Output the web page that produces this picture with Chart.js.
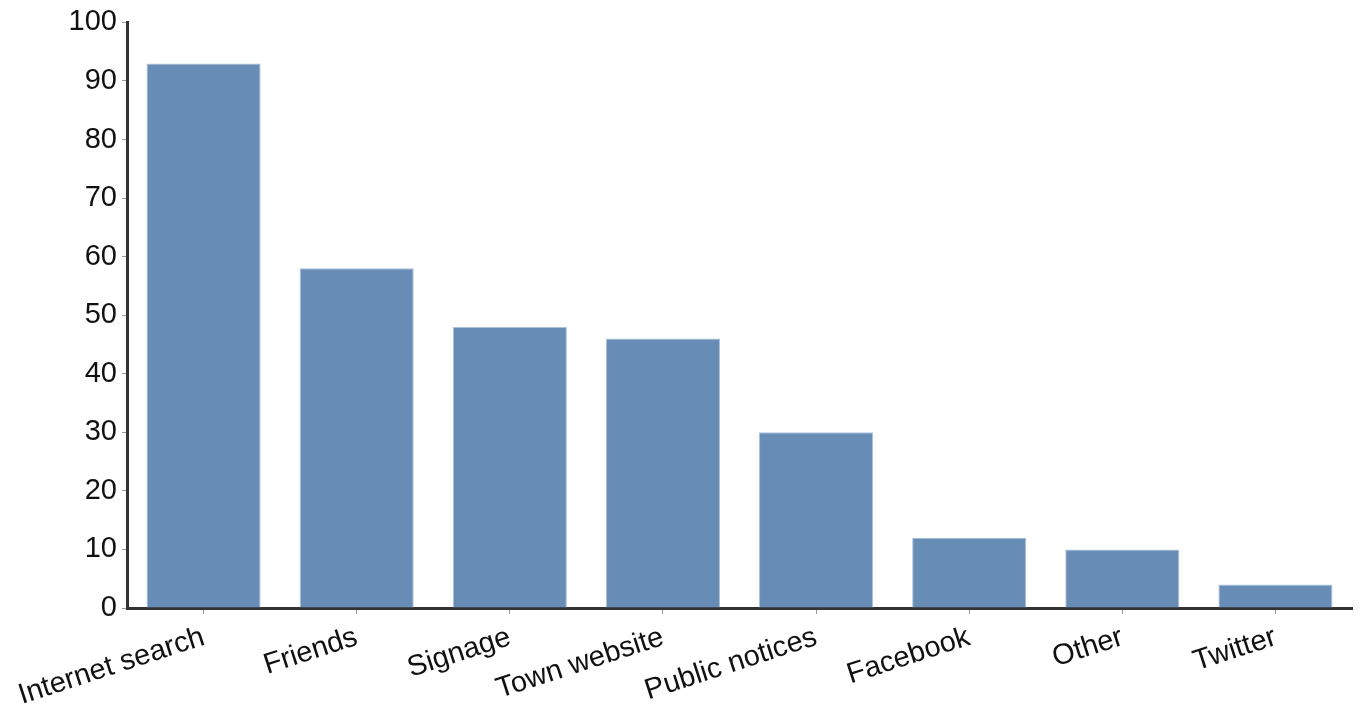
<!DOCTYPE html>
<html>
  <head>
    <script src="https://cdn.jsdelivr.net/npm/chart.js@4/dist/chart.umd.min.js"></script>
    <style>
      body { margin: 0; background: #fff; }
    </style>
  </head>
  <body>
    <canvas id="graph" width="1362" height="717"></canvas>
    <script>
      const categories = ['Internet search', 'Friends', 'Signage', 'Town website', 'Public notices', 'Facebook', 'Other', 'Twitter'];
      const counts = [93, 58, 48, 46, 30, 12, 10, 4];
      const yTicks = [0, 10, 20, 30, 40, 50, 60, 70, 80, 90, 100];

      const chart = new Chart(document.getElementById('graph').getContext('2d'), {
        type: 'bar',
        data: {
          labels: categories,
          datasets: [
            {
              data: counts,
              backgroundColor: '#678cb5',
              borderColor: '#a9c1dc',
              borderWidth: 1,
              categoryPercentage: 1,
              barPercentage: 0.745,
            },
          ],
        },
        options: {
          responsive: false,
          animation: false,
          layout: {
            padding: { left: 0, top: 22, right: 10, bottom: 0 },
          },
          plugins: {
            legend: { display: false },
            tooltip: { enabled: false },
          },
          scales: {
            x: {
              grid: { offset: false, drawOnChartArea: false, drawTicks: true, tickLength: 6, color: '#999' },
              border: { color: '#333', width: 3 },
              ticks: {
                color: '#111',
                font: { family: 'Liberation Sans', size: 29 },
                minRotation: 18,
                maxRotation: 18,
                padding: 6,
              },
              afterFit: (s) => { s.height = 109; },
            },
            y: {
              min: 0,
              max: 100,
              afterBuildTicks: (s) => { s.ticks = yTicks.map((v) => ({ value: v })); },
              grid: { drawOnChartArea: false, drawTicks: true, tickLength: 5, color: '#999' },
              border: { color: '#333', width: 3 },
              ticks: {
                color: '#111',
                font: { family: 'Liberation Sans', size: 29 },
                padding: 5,
              },
              afterFit: (s) => { s.width = 127; },
            },
          },
        },
      });
    </script>
  </body>
</html>
